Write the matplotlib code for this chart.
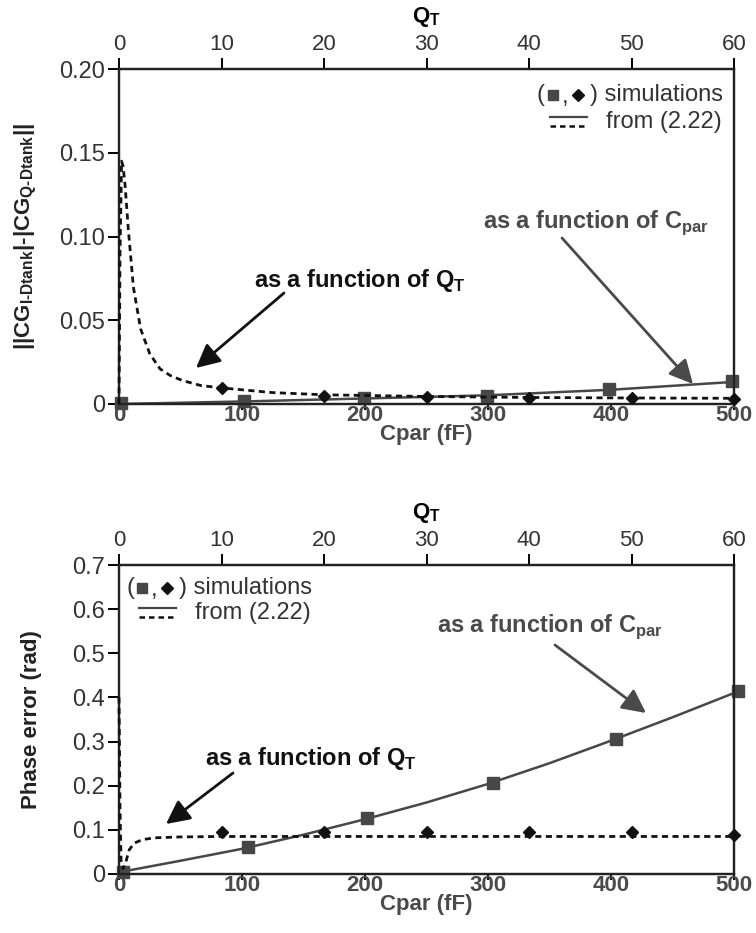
import matplotlib
matplotlib.use("Agg")
import matplotlib.pyplot as plt

plt.rcParams['font.family'] = ['Liberation Sans', 'DejaVu Sans']
plt.rcParams['mathtext.fontset'] = 'custom'
plt.rcParams['mathtext.rm'] = 'Liberation Sans'
plt.rcParams['mathtext.bf'] = 'Liberation Sans:bold'

# ---------------- data ----------------
cpar_ticks = [0, 100, 200, 300, 400, 500]
qt_ticks = [0, 10, 20, 30, 40, 50, 60]

# top panel: amplitude mismatch
top_cpar_sim_x = [2, 102, 199, 299, 398, 498]
top_cpar_sim_y = [0.0005, 0.0018, 0.0036, 0.0048, 0.0090, 0.0138]
top_cpar_eq_x = [0, 100, 200, 300, 400, 500]
top_cpar_eq_y = [0.0, 0.0015, 0.0033, 0.0052, 0.0085, 0.0132]
top_qt_sim_x = [10, 20, 30, 40, 50, 60]
top_qt_sim_y = [0.0096, 0.0050, 0.0042, 0.0036, 0.0036, 0.0030]
top_qt_eq_x = [0, 0.1, 0.25, 0.4, 0.6, 0.9, 1.4, 2.1, 3.0, 4.0, 5.0, 6.2, 8, 10, 15, 20, 30, 40, 50, 60]
top_qt_eq_y = [0.0, 0.09, 0.145, 0.142, 0.130, 0.105, 0.070, 0.045, 0.030, 0.021, 0.017,
               0.014, 0.011, 0.0096, 0.0068, 0.0055, 0.0045, 0.0039, 0.0036, 0.0034]

# bottom panel: phase error
bot_cpar_sim_x = [3, 105, 202, 304, 404, 503]
bot_cpar_sim_y = [0.005, 0.061, 0.127, 0.206, 0.306, 0.415]
bot_cpar_eq_x = [0, 50, 100, 150, 200, 250, 300, 350, 400, 450, 500]
bot_cpar_eq_y = [0.004, 0.030, 0.057, 0.089, 0.124, 0.162, 0.204, 0.251, 0.302, 0.355, 0.410]
bot_qt_sim_x = [10, 20, 30, 40, 50, 60]
bot_qt_sim_y = [0.095, 0.095, 0.095, 0.095, 0.095, 0.088]
bot_qt_eq_x = [0, 0.1, 0.2, 0.4, 0.7, 1.0, 1.5, 2.3, 3.5, 6, 10, 60]
bot_qt_eq_y = [0.40, 0.15, 0.03, 0.012, 0.030, 0.055, 0.070, 0.078, 0.082, 0.084, 0.085, 0.085]

top_yticks = [0, 0.05, 0.10, 0.15, 0.20]
top_yticklabels = ['0', '0.05', '0.10', '0.15', '0.20']
bot_yticks = [0, 0.1, 0.2, 0.3, 0.4, 0.5, 0.6, 0.7]
bot_yticklabels = ['0', '0.1', '0.2', '0.3', '0.4', '0.5', '0.6', '0.7']

# ---------------- style ----------------
W, H = 756, 933
GREY = '#474747'
TXTGREY = '#4a4a4a'
BLACK = '#111111'
TICK_FS = 16
YTICK_FS = 17
LAB_FS = 16
ANN_FS = 17
LEG_FS = 17

fig = plt.figure(figsize=(W / 100, H / 100), dpi=100)


def P(x, y):
    return (x / W, 1 - y / H)


def make_axes(top_px, bot_px):
    l, r = 119, 734
    ax = fig.add_axes([l / W, 1 - bot_px / H, (r - l) / W, (bot_px - top_px) / H])
    return ax


def style(ax, ylim, yticks, yticklabels, ylabel, ylabel_x):
    ax.set_xlim(0, 500)
    ax.set_ylim(*ylim)
    for s in ax.spines.values():
        s.set_linewidth(1.6)
        s.set_color('#222222')
    ax.set_xticks(cpar_ticks)
    ax.set_xticklabels([str(t) for t in cpar_ticks], fontsize=TICK_FS,
                       fontweight='bold', color=TXTGREY)
    ax.set_yticks(yticks)
    ax.set_yticklabels(yticklabels, fontsize=YTICK_FS, color='#333333')
    ax.tick_params(axis='x', direction='out', length=4, width=1.4, pad=-3)
    ax.tick_params(axis='y', direction='out', length=8, width=1.4, pad=2)
    ax.set_xlabel('Cpar (fF)', fontsize=LAB_FS, fontweight='bold', color=TXTGREY, labelpad=-2)
    ax.set_ylabel(ylabel, fontsize=LAB_FS, fontweight='bold', color='#222222')
    ax.yaxis.set_label_coords(ylabel_x, 0.5)
    ax2 = ax.twiny()
    ax2.set_xlim(0, 60)
    ax2.set_xticks(qt_ticks)
    ax2.set_xticklabels([str(t) for t in qt_ticks], fontsize=TICK_FS, color='#333333')
    ax2.tick_params(axis='x', direction='out', length=8, width=1.4, pad=2)
    ax2.set_xlabel(r'Q$_\mathbf{T}$', fontsize=LAB_FS, fontweight='bold', labelpad=9)
    for s in ax2.spines.values():
        s.set_linewidth(1.6)
        s.set_color('#222222')
    return ax2


def legend(x0, y_sim, y_eq):
    fig.text(*P(x0, y_sim), '(', fontsize=LEG_FS, va='center', ha='left', color='#333333')
    fig.lines.append(plt.Line2D([P(x0 + 16, 0)[0]], [P(0, y_sim)[1]], marker='s', ms=6.5,
                                color=GREY, transform=fig.transFigure, figure=fig))
    fig.text(*P(x0 + 25, y_sim + 2), ',', fontsize=LEG_FS, va='center', ha='left', color='#333333')
    fig.lines.append(plt.Line2D([P(x0 + 41, 0)[0]], [P(0, y_sim)[1]], marker='D', ms=6,
                                color=BLACK, transform=fig.transFigure, figure=fig))
    fig.text(*P(x0 + 53, y_sim), ') simulations', fontsize=LEG_FS, va='center',
             ha='left', color='#333333')
    fig.lines.append(plt.Line2D([P(x0 + 13, 0)[0], P(x0 + 50, 0)[0]],
                                [P(0, y_eq - 5)[1]] * 2, color=GREY, lw=1.6,
                                transform=fig.transFigure, figure=fig))
    fig.lines.append(plt.Line2D([P(x0 + 13, 0)[0], P(x0 + 50, 0)[0]],
                                [P(0, y_eq + 4)[1]] * 2, color=BLACK, lw=1.8, ls=(0, (2.2, 1.6)),
                                transform=fig.transFigure, figure=fig))
    fig.text(*P(x0 + 69, y_eq), 'from (2.22)', fontsize=LEG_FS, va='center', ha='left',
             color='#333333')


def annot(text, color, txt_xy, tail, tip):
    fig.text(*P(*txt_xy), text, fontsize=ANN_FS, fontweight='bold', color=color,
             ha='left', va='center')
    fig.patches.append(matplotlib.patches.FancyArrowPatch(
        P(*tail), P(*tip), transform=fig.transFigure, arrowstyle='-|>',
        mutation_scale=36, lw=2.0, color=color, shrinkA=0, shrinkB=0, figure=fig))


# ---------------- top panel ----------------
ax = make_axes(69, 404)
ax.plot(top_cpar_eq_x, top_cpar_eq_y, color=GREY, lw=1.8, zorder=3, clip_on=False)
ax.plot(top_cpar_sim_x, top_cpar_sim_y, ls='none', marker='s', ms=8, color=GREY,
        zorder=4, clip_on=False)
ax2 = style(ax, (0, 0.20), top_yticks, top_yticklabels,
            r'||CG$_\mathbf{I‐Dtank}$|‐|CG$_\mathbf{Q‐Dtank}$||', -0.13)
ax2.plot(top_qt_eq_x, top_qt_eq_y, color=BLACK, lw=2.0, ls=(0, (2.2, 1.6)), zorder=3, clip_on=False)
ax2.plot(top_qt_sim_x, top_qt_sim_y, ls='none', marker='D', ms=6.5, color=BLACK,
         zorder=5, clip_on=False)
legend(537, 95, 122)
annot(r'as a function of Q$_\mathbf{T}$', BLACK, (254, 280), (284, 293), (196, 368))
annot(r'as a function of C$_\mathbf{par}$', TXTGREY, (483, 223), (562, 238), (693, 384))

# ---------------- bottom panel ----------------
bx = make_axes(565, 874)
bx.plot(bot_cpar_eq_x, bot_cpar_eq_y, color=GREY, lw=1.8, zorder=3, clip_on=False)
bx.plot(bot_cpar_sim_x, bot_cpar_sim_y, ls='none', marker='s', ms=8, color=GREY,
        zorder=4, clip_on=False)
bx2 = style(bx, (0, 0.7), bot_yticks, bot_yticklabels, 'Phase error (rad)', -0.125)
bx2.plot(bot_qt_eq_x, bot_qt_eq_y, color=BLACK, lw=2.0, ls=(0, (2.2, 1.6)), zorder=3, clip_on=False)
bx2.plot(bot_qt_sim_x, bot_qt_sim_y, ls='none', marker='D', ms=6.5, color=BLACK,
         zorder=5, clip_on=False)
legend(126, 588, 613)
annot(r'as a function of Q$_\mathbf{T}$', BLACK, (205, 758), (233, 773), (166, 824))
annot(r'as a function of C$_\mathbf{par}$', TXTGREY, (437, 627), (555, 645), (646, 713))

fig.savefig('out.png', dpi=100)
